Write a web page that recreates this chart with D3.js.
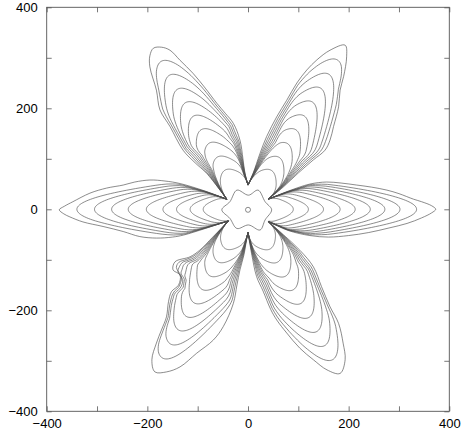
<!DOCTYPE html>
<html><head><meta charset="utf-8">
<script src="https://cdn.jsdelivr.net/npm/d3@7"></script>
<style>
body{margin:0;background:#fff}
svg{display:block}
text{font-family:"Liberation Sans",Arial,Helvetica,sans-serif;font-size:13px;fill:#000}
</style>
</head><body>
<svg id="c" width="462" height="430"></svg>
<script>
// ---------------- data ----------------
const X_DOMAIN = [-400, 400];
const Y_DOMAIN = [-400, 400];
const TICK_VALUES = [-400, -300, -200, -100, 0, 100, 200, 300, 400];
const LABELED_TICKS = [-400, -200, 0, 200, 400];

// arm names and axis directions (degrees)
const PETAL_NAMES = ["R", "UR", "UL", "L", "LL", "LR"];
const PETAL_AXIS_DEG = [0, 59, 120.5, 180, 240, 299.5];

// points where the contour bundles of neighbouring arms meet (angles 30,90,...,330)
const BASE_POINTS = [[40, 20], [0, 48], [-42, 20], [-39, -23], [0, -46], [40, -24]];

// outermost contour of each arm (between its two base points)
const OUTER_R = [[80,-42],[123,-52],[160,-55],[200,-52],[240,-46],[280,-37],[316,-28],[345,-17],[365,-7],[373,0],[365,7],[345,15],[329,20],[300,31],[276,38],[245,44],[216,48],[185,52],[156,54],[123,50],[80,36]];
const OUTER_UR = [[70,44],[100,72],[130,98],[153,117],[163,137],[170,164],[180,203],[183,236],[190,263],[196,302],[193,325],[163,315],[137,296],[117,276],[97,250],[77,216],[57,183],[37,144],[24,111],[10,71]];
const OUTER_UL = [[-6,71],[-10,100],[-16,137],[-29,170],[-45,190],[-62,210],[-85,240],[-109,269],[-135,295],[-155,315],[-172,321],[-188,319],[-195,304],[-195,282],[-182,236],[-175,197],[-155,164],[-129,117],[-105,92],[-82,71]];
const OUTER_L = [[-85,36],[-135,51],[-165,56],[-195,58],[-225,54],[-248,48],[-281,42],[-314,32],[-348,15],[-365,6],[-375,-1],[-366,-9],[-354,-15],[-328,-25],[-288,-34],[-248,-44],[-215,-54],[-182,-57],[-150,-55],[-128,-51],[-85,-38]];
const OUTER_LL = [[-70,-55],[-96,-81],[-115,-94],[-145,-104],[-149,-120],[-135,-130],[-138,-150],[-152,-163],[-158,-183],[-162,-213],[-172,-239],[-182,-265],[-191,-298],[-185,-322],[-162,-322],[-135,-312],[-102,-285],[-69,-259],[-49,-232],[-29,-186],[-22,-150],[-16,-120],[-8,-90],[-3,-61]];
const OUTER_LR = [[7,-87],[17,-133],[30,-162],[45,-198],[57,-219],[77,-245],[103,-275],[130,-298],[157,-318],[183,-325],[193,-298],[189,-265],[180,-226],[163,-193],[146,-153],[130,-114],[103,-81],[70,-50]];

// tip distances (from origin along the arm) of the inner contours
const TIPS_R  = [335, 302, 272, 243, 213, 183, 150, 120, 90];
const TIPS_UR = [345, 312, 280, 248, 216, 184, 152, 120, 90];
const TIPS_UL = [340, 308, 276, 245, 214, 183, 152, 120, 90];
const TIPS_L  = [340, 305, 271, 238, 202, 169, 142, 115, 89];
const TIPS_LL = [340, 308, 276, 245, 214, 183, 152, 120, 90];
const TIPS_LR = [342, 310, 278, 246, 214, 183, 152, 120, 90];

// central six-lobed contour and the small central ring
const CENTER_CONTOUR = [[47,-1],[34,15],[20,38],[1,28],[-22,38],[-36,15],[-52,-1],[-36,-18],[-22,-38],[1,-31],[24,-41],[34,-21]];
const CENTER_RING = [[0, -1, 5]];

// ---------------- drawing ----------------
const OUTERS = [OUTER_R, OUTER_UR, OUTER_UL, OUTER_L, OUTER_LL, OUTER_LR];
const TIPS = [TIPS_R, TIPS_UR, TIPS_UL, TIPS_L, TIPS_LL, TIPS_LR];
const TIP_ROUNDNESS = [3.8, 5.2, 5.2, 3.8, 5.2, 5.2];
const SIDE_SPREAD = [1.5, 3.5, 3.5, 1.5, 3.5, 3.5];

const svg = d3.select("#c");
const x = d3.scaleLinear().domain(X_DOMAIN).range([46.7, 449.3]);
const y = d3.scaleLinear().domain(Y_DOMAIN).range([411.3, 7.3]);

const line = d3.line().x(d => x(d[0])).y(d => y(d[1])).curve(d3.curveCatmullRom.alpha(0.5));
const lineClosed = d3.line().x(d => x(d[0])).y(d => y(d[1])).curve(d3.curveCatmullRomClosed.alpha(0.5));

function toLocal(p, th) { const c = Math.cos(th), s = Math.sin(th); return [p[0]*c + p[1]*s, -p[0]*s + p[1]*c]; }
function toData(sv, tv, th) { const c = Math.cos(th), s = Math.sin(th); return [sv*c - tv*s, sv*s + tv*c]; }
function smin(a, b, k) { const h = Math.max(k - Math.abs(a - b), 0) / k; return Math.min(a, b) - h*h*k*0.25; }
function interp(arr, s) {
  if (s <= arr[0][0]) return arr[0][1];
  for (let i = 1; i < arr.length; i++) {
    if (s <= arr[i][0]) {
      const a = arr[i-1], b = arr[i];
      const f = (s - a[0]) / Math.max(1e-6, b[0] - a[0]);
      return a[1] + f * (b[1] - a[1]);
    }
  }
  return arr[arr.length-1][1];
}

const g = svg.append("g").attr("fill", "none").attr("stroke", "#4d4d4d").attr("stroke-width", 0.65);

PETAL_NAMES.forEach((name, j) => {
  const th = PETAL_AXIS_DEG[j] * Math.PI / 180;
  const full = [BASE_POINTS[(j + 5) % 6], ...OUTERS[j], BASE_POINTS[j]];
  const loc = full.map(p => toLocal(p, th));
  let tipIdx = 0;
  loc.forEach((p, i) => { if (p[0] > loc[tipIdx][0]) tipIdx = i; });
  const cw = loc.slice(0, tipIdx + 1).map(p => [p[0], -p[1]]).sort((a, b) => a[0] - b[0]);
  const ccw = loc.slice(tipIdx).map(p => [p[0], p[1]]).sort((a, b) => a[0] - b[0]);
  const s0cw = loc[0][0], s0ccw = loc[loc.length - 1][0];

  // outermost contour
  g.append("path").attr("d", line(full));

  const a = TIP_ROUNDNESS[j], sp = SIDE_SPREAD[j];
  TIPS[j].forEach((L, kk) => {
    const k = kk + 1;
    const N = 40;
    function sidePts(arr, s0, sign) {
      const out = [];
      for (let i = 0; i <= N; i++) {
        const v = i / N;
        const s = s0 + (L - s0) * (1 - (1 - v) * (1 - v));
        const ramp = Math.pow(Math.min(1, Math.max(0, (s - s0) / 100)), 1.5);
        const e = interp(arr, s) - k * sp * ramp;
        const cap = a * Math.sqrt(Math.max(0, L - s));
        const w = i === 0 ? interp(arr, s0) : Math.max(0, smin(e, cap, 8));
        out.push([s, sign * w]);
      }
      return out;
    }
    const left = sidePts(cw, s0cw, -1);
    const right = sidePts(ccw, s0ccw, 1).reverse().slice(1);
    const pts = left.concat(right).map(p => toData(p[0], p[1], th));
    pts[0] = BASE_POINTS[(j + 5) % 6];
    pts[pts.length - 1] = BASE_POINTS[j];
    g.append("path").attr("d", line(pts));
  });
});

g.append("path").attr("d", lineClosed(CENTER_CONTOUR));
g.selectAll("circle.ring").data(CENTER_RING).join("circle")
  .attr("class", "ring")
  .attr("cx", d => x(d[0])).attr("cy", d => y(d[1]))
  .attr("r", d => x(d[2]) - x(0));

// ---------------- axes / frame ----------------
const fmt = v => LABELED_TICKS.includes(v) ? d3.format("d")(v) : "";
const axColor = "#555";
function styleAxis(sel) {
  sel.select(".domain").remove();
  sel.selectAll(".tick line").attr("stroke", axColor).attr("stroke-width", 0.8);
  sel.selectAll(".tick text").attr("fill", "#000").style("font-size", "13px")
     .style("font-family", '"Liberation Sans",Arial,sans-serif');
}
svg.append("g").attr("transform", `translate(0,${y(-400)})`)
  .call(d3.axisBottom(x).tickValues(TICK_VALUES).tickSize(-5).tickPadding(7).tickFormat(fmt)).call(styleAxis);
svg.append("g").attr("transform", `translate(${x(-400)},0)`)
  .call(d3.axisLeft(y).tickValues(TICK_VALUES).tickSize(-5).tickPadding(9).tickFormat(fmt)).call(styleAxis);
svg.append("g").attr("transform", `translate(0,${y(400)})`)
  .call(d3.axisTop(x).tickValues(TICK_VALUES).tickSize(-5).tickFormat("")).call(styleAxis);
svg.append("g").attr("transform", `translate(${x(400)},0)`)
  .call(d3.axisRight(y).tickValues(TICK_VALUES).tickSize(-5).tickFormat("")).call(styleAxis);

svg.append("rect")
  .attr("x", x(-400)).attr("y", y(400))
  .attr("width", x(400) - x(-400)).attr("height", y(-400) - y(400))
  .attr("fill", "none").attr("stroke", axColor).attr("stroke-width", 0.9);
</script>
</body></html>
